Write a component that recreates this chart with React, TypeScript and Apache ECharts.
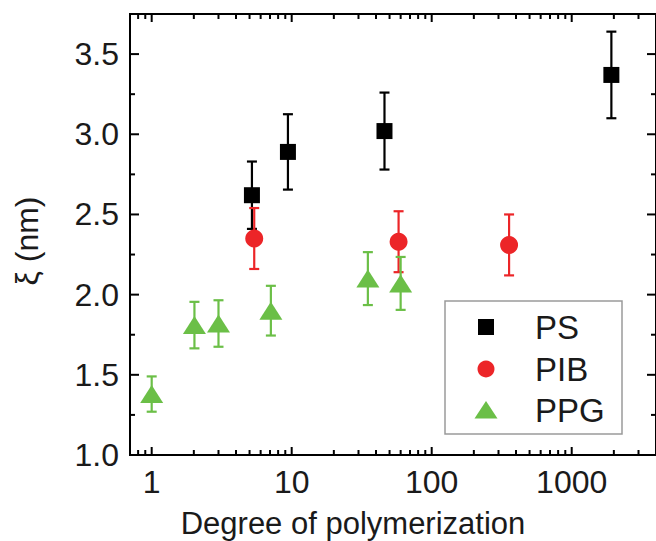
import React, { useEffect, useRef } from "react";
import * as echarts from "echarts";

// ---- data ----
const psX = [5.2, 9.4, 46, 1920];
const psY = [2.62, 2.89, 3.02, 3.37];
const psErr = [0.21, 0.235, 0.24, 0.27];

const pibX = [5.4, 58, 357];
const pibY = [2.35, 2.33, 2.31];
const pibErr = [0.19, 0.19, 0.19];

const ppgX = [1, 2.02, 3.0, 7.1, 35, 60];
const ppgY = [1.38, 1.81, 1.82, 1.9, 2.1, 2.07];
const ppgErr = [0.11, 0.145, 0.145, 0.155, 0.165, 0.165];

const xMajorTicks = [1, 10, 100, 1000];
const xMinorTicks = [0.8, 0.9, 2, 3, 4, 5, 6, 7, 8, 9, 20, 30, 40, 50, 60, 70, 80, 90, 200, 300, 400, 500, 600, 700, 800, 900, 2000, 3000];
const yMajorTicks = [1.5, 2.0, 2.5, 3.0, 3.5];
const yMinorTicks = [1.25, 1.75, 2.25, 2.75, 3.25];

const legendNames = ["PS", "PIB", "PPG"];

const BLACK = "#000000";
const RED = "#ec2528";
const GREEN = "#6bbf47";
const FONT = "Liberation Sans, Arial, sans-serif";

const X_MIN = 0.7;
const X_MAX = 4000;
const Y_MIN = 1.0;
const Y_MAX = 3.75;

function errData(xs: number[], ys: number[], es: number[]) {
  return xs.map((x, i) => [x, ys[i] - es[i], ys[i] + es[i]]);
}

function errSeries(name: string, xs: number[], ys: number[], es: number[], color: string) {
  return {
    type: "custom",
    name: name + "-err",
    z: 2,
    data: errData(xs, ys, es),
    encode: { x: 0, y: [1, 2] },
    renderItem: (params: any, api: any) => {
      const lo = api.coord([api.value(0), api.value(1)]);
      const hi = api.coord([api.value(0), api.value(2)]);
      const cw = 5;
      const style = { stroke: color, lineWidth: 2.2 };
      return {
        type: "group",
        children: [
          { type: "line", shape: { x1: lo[0], y1: lo[1], x2: hi[0], y2: hi[1] }, style },
          { type: "line", shape: { x1: lo[0] - cw, y1: lo[1], x2: lo[0] + cw, y2: lo[1] }, style },
          { type: "line", shape: { x1: hi[0] - cw, y1: hi[1], x2: hi[0] + cw, y2: hi[1] }, style },
        ],
      };
    },
  };
}

function xTickSeries(vals: number[], len: number) {
  return {
    type: "custom",
    z: 5,
    silent: true,
    data: vals.map((v) => [v, Y_MIN]),
    renderItem: (params: any, api: any) => {
      const b = api.coord([api.value(0), Y_MIN]);
      const t = api.coord([api.value(0), Y_MAX]);
      const style = { stroke: "#000", lineWidth: 2 };
      return {
        type: "group",
        children: [
          { type: "line", shape: { x1: b[0], y1: b[1], x2: b[0], y2: b[1] - len }, style },
          { type: "line", shape: { x1: t[0], y1: t[1], x2: t[0], y2: t[1] + len }, style },
        ],
      };
    },
  };
}

function yTickSeries(vals: number[], len: number) {
  return {
    type: "custom",
    z: 5,
    silent: true,
    data: vals.map((v) => [X_MIN, v]),
    renderItem: (params: any, api: any) => {
      const l = api.coord([X_MIN, api.value(1)]);
      const r = api.coord([X_MAX, api.value(1)]);
      const style = { stroke: "#000", lineWidth: 2 };
      return {
        type: "group",
        children: [
          { type: "line", shape: { x1: l[0], y1: l[1], x2: l[0] + len, y2: l[1] }, style },
          { type: "line", shape: { x1: r[0], y1: r[1], x2: r[0] - len, y2: r[1] }, style },
        ],
      };
    },
  };
}

function isPow10(v: number) {
  const l = Math.log10(v);
  return Math.abs(l - Math.round(l)) < 1e-6;
}

export default function App() {
  const ref = useRef<HTMLDivElement>(null);
  useEffect(() => {
    if (!ref.current) return;
    const chart = echarts.init(ref.current, undefined, { renderer: "svg" });
    const legendLeft = 445;
    const legendTop = 301;
    const rowY = [327, 369, 410];
    const symX = 486;
    const textX = 535;
    chart.setOption({
      animation: false,
      backgroundColor: "#ffffff",
      grid: {
        left: 130,
        top: 14,
        width: 530,
        height: 441,
        show: true,
        borderColor: "#000",
        borderWidth: 2,
        backgroundColor: "transparent",
      },
      xAxis: {
        type: "log",
        logBase: 10,
        min: X_MIN,
        max: X_MAX,
        axisLine: { show: true, lineStyle: { color: "#000", width: 2 } },
        axisTick: { show: false },
        splitLine: { show: false },
        minorTick: { show: false },
        axisLabel: {
          fontSize: 32,
          fontFamily: FONT,
          color: "#1a1a1a",
          margin: 11,
          showMinLabel: false,
          showMaxLabel: false,
          formatter: (v: number) => (isPow10(v) ? String(Math.round(v)) : ""),
        },
      },
      yAxis: {
        type: "value",
        min: Y_MIN,
        max: Y_MAX,
        interval: 0.5,
        axisLine: { show: true, lineStyle: { color: "#000", width: 2 } },
        axisTick: { show: false },
        splitLine: { show: false },
        axisLabel: {
          fontSize: 32,
          fontFamily: FONT,
          color: "#1a1a1a",
          margin: 11,
          showMaxLabel: false,
          formatter: (v: number) => (Math.abs(v * 2 - Math.round(v * 2)) < 1e-6 ? v.toFixed(1) : ""),
        },
      },
      graphic: [
        {
          type: "text",
          x: 353,
          y: 523,
          style: {
            text: "Degree of polymerization",
            fontSize: 31,
            fontFamily: FONT,
            fill: "#1a1a1a",
            align: "center",
            verticalAlign: "middle",
          },
        },
        {
          type: "text",
          x: 27,
          y: 241,
          rotation: Math.PI / 2,
          style: {
            text: "ξ (nm)",
            fontSize: 32,
            fontFamily: FONT,
            fill: "#1a1a1a",
            align: "center",
            verticalAlign: "middle",
          },
        },
        {
          type: "rect",
          shape: { x: legendLeft, y: legendTop, width: 177, height: 133 },
          style: { fill: "#ffffff", stroke: "#9a9a9a", lineWidth: 1.5 },
          z: 10,
        },
        {
          type: "rect",
          shape: { x: symX - 8, y: rowY[0] - 8, width: 16, height: 16 },
          style: { fill: BLACK },
          z: 11,
        },
        {
          type: "circle",
          shape: { cx: symX, cy: rowY[1], r: 8.5 },
          style: { fill: RED },
          z: 11,
        },
        {
          type: "polygon",
          shape: { points: [[symX, rowY[2] - 9], [symX + 11.5, rowY[2] + 8.5], [symX - 11.5, rowY[2] + 8.5]] },
          style: { fill: GREEN },
          z: 11,
        },
        ...legendNames.map((n, i) => ({
          type: "text",
          x: textX,
          y: rowY[i],
          z: 11,
          style: {
            text: n,
            fontSize: 33,
            fontFamily: FONT,
            fill: "#1a1a1a",
            align: "left",
            verticalAlign: "middle",
          },
        })),
      ],
      series: [
        errSeries("PS", psX, psY, psErr, BLACK),
        errSeries("PIB", pibX, pibY, pibErr, RED),
        errSeries("PPG", ppgX, ppgY, ppgErr, GREEN),
        {
          type: "scatter",
          name: "PS",
          z: 3,
          symbol: "rect",
          symbolSize: 16,
          itemStyle: { color: BLACK, opacity: 1 },
          data: psX.map((x, i) => [x, psY[i]]),
        },
        {
          type: "scatter",
          name: "PIB",
          z: 3,
          symbol: "circle",
          symbolSize: 18,
          itemStyle: { color: RED, opacity: 1 },
          data: pibX.map((x, i) => [x, pibY[i]]),
        },
        {
          type: "scatter",
          name: "PPG",
          z: 3,
          symbol: "triangle",
          symbolSize: [23, 18],
          itemStyle: { color: GREEN, opacity: 1 },
          data: ppgX.map((x, i) => [x, ppgY[i]]),
        },
        xTickSeries(xMajorTicks, 8),
        xTickSeries(xMinorTicks, 5),
        yTickSeries(yMajorTicks, 9),
        yTickSeries(yMinorTicks, 5),
      ],
    });
    return () => chart.dispose();
  }, []);
  return (
    <div
      ref={ref}
      style={{ position: "fixed", left: 0, top: 0, width: 656, height: 541, background: "#fff" }}
    />
  );
}
